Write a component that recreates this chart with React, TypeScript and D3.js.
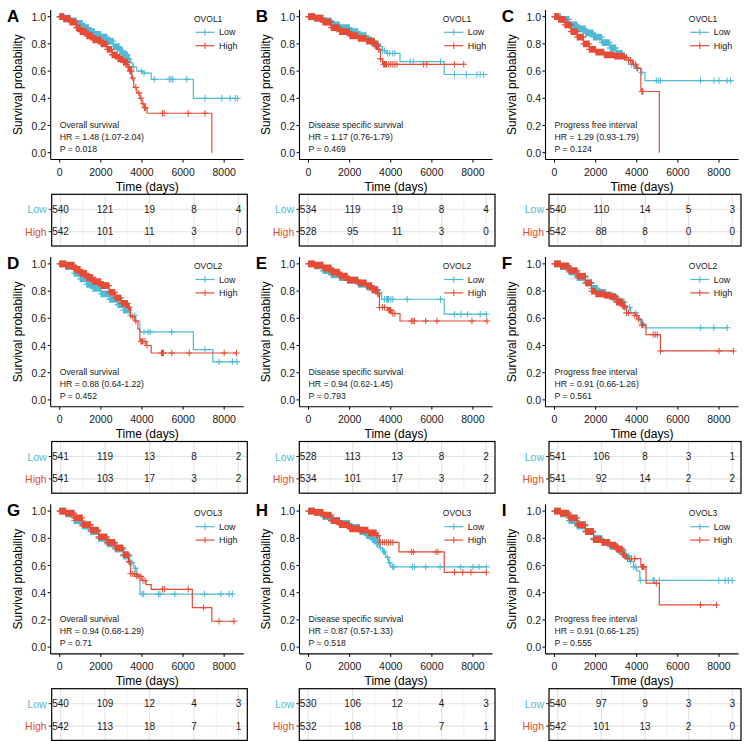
import React from "react";
import * as d3 from "d3";

const CYAN = "#4DBBD5";
const RED = "#E64B35";
const FONT = "'Liberation Sans', Arial, Helvetica, sans-serif";

const panelLetters = ["A", "B", "C", "D", "E", "F", "G", "H", "I"];
const geneNames = ["OVOL1", "OVOL1", "OVOL1", "OVOL2", "OVOL2", "OVOL2", "OVOL3", "OVOL3", "OVOL3"];
const endpointNames = [
  "Overall survival", "Disease specific survival", "Progress free interval",
  "Overall survival", "Disease specific survival", "Progress free interval",
  "Overall survival", "Disease specific survival", "Progress free interval",
];
const hrTexts = [
  "HR = 1.48 (1.07-2.04)", "HR = 1.17 (0.76-1.79)", "HR = 1.29 (0.93-1.79)",
  "HR = 0.88 (0.64-1.22)", "HR = 0.94 (0.62-1.45)", "HR = 0.91 (0.66-1.26)",
  "HR = 0.94 (0.68-1.29)", "HR = 0.87 (0.57-1.33)", "HR = 0.91 (0.66-1.25)",
];
const pTexts = ["P = 0.018", "P = 0.469", "P = 0.124", "P = 0.452", "P = 0.793", "P = 0.561", "P = 0.71", "P = 0.518", "P = 0.555"];
const groups = ["Low", "High"];
const xTicks = [0, 2000, 4000, 6000, 8000];
const xMinorTicks = [1000, 3000, 5000, 7000];
const yTicks = [0, 0.2, 0.4, 0.6, 0.8, 1.0];

const riskLow = [
  [540, 121, 19, 8, 4], [534, 119, 19, 8, 4], [540, 110, 14, 5, 3],
  [541, 119, 13, 8, 2], [528, 113, 13, 8, 2], [541, 106, 8, 3, 1],
  [540, 109, 12, 4, 3], [530, 106, 12, 4, 3], [540, 97, 9, 3, 3],
];
const riskHigh = [
  [542, 101, 11, 3, 0], [528, 95, 11, 3, 0], [542, 88, 8, 0, 0],
  [541, 103, 17, 3, 2], [534, 101, 17, 3, 2], [541, 92, 14, 2, 2],
  [542, 113, 18, 7, 1], [532, 108, 18, 7, 1], [542, 101, 13, 2, 0],
];

// early, dense censoring times (shared pattern)
const denseCensorTimes = [
  10, 30, 50, 70, 90, 105, 125, 150, 170, 185, 205, 225, 245, 260, 280, 300, 320, 340, 360, 380, 400,
  415, 435, 455, 475, 490, 510, 535, 555, 570, 590, 610, 630, 650, 670, 690, 710, 730, 750, 770, 790,
  810, 830, 855, 875, 895, 915, 940, 960, 980, 1000, 1025, 1045, 1065, 1090, 1110, 1130, 1155, 1175,
  1200, 1225, 1250, 1270, 1295, 1320, 1345, 1365, 1390, 1415, 1440, 1465, 1490, 1515, 1540, 1570,
  1595, 1620, 1645, 1675, 1700, 1730, 1755, 1785, 1810, 1840, 1870, 1900, 1925, 1955, 1985, 2015,
  2045, 2080, 2110, 2145, 2180, 2215, 2250, 2285, 2320, 2355, 2390, 2430, 2470, 2510, 2550, 2590,
  2630, 2670, 2710, 2750, 2790, 2835, 2880, 2925, 2970, 3015, 3060, 3105, 3150, 3195, 3240, 3285,
  3330, 3375, 3420, 3460, 3490,
];

// ---- Panel A (OVOL1, OS)
const stepsLowA = [[0, 1], [200, 0.99], [500, 0.97], [800, 0.95], [1100, 0.92], [1400, 0.89], [1700, 0.87], [2000, 0.85], [2300, 0.82], [2600, 0.78], [2900, 0.75], [3100, 0.72], [3300, 0.69], [3450, 0.66], [3550, 0.63], [3750, 0.6], [4100, 0.585], [4450, 0.54], [6500, 0.4]];
const censorLowA = [3580, 3980, 4100, 4590, 5330, 5410, 5500, 6180, 7070, 7890, 8290, 8540, 8650];
const stepsHighA = [[0, 1], [200, 0.985], [500, 0.96], [800, 0.92], [1000, 0.89], [1300, 0.86], [1600, 0.83], [2000, 0.8], [2300, 0.76], [2550, 0.72], [2800, 0.69], [3100, 0.665], [3300, 0.63], [3400, 0.6], [3500, 0.55], [3600, 0.48], [3750, 0.44], [3900, 0.4], [4000, 0.36], [4100, 0.33], [4250, 0.29], [7400, 0]];
const censorHighA = [3550, 3700, 3850, 3950, 4050, 4120, 4180, 5000, 5080, 6250, 7070];
// ---- Panel B (OVOL1, DSS)
const stepsLowB = [[0, 1], [300, 0.99], [700, 0.97], [1100, 0.94], [1500, 0.92], [2000, 0.89], [2400, 0.86], [2800, 0.83], [3100, 0.8], [3400, 0.78], [3600, 0.75], [3800, 0.73], [4450, 0.67], [6600, 0.575]];
const censorLowB = [3600, 3700, 3850, 3950, 4100, 4200, 4950, 5100, 6420, 7100, 7680, 8190, 8350, 8520];
const stepsHighB = [[0, 1], [300, 0.99], [700, 0.96], [1100, 0.92], [1500, 0.89], [2000, 0.86], [2400, 0.84], [2800, 0.82], [3200, 0.79], [3400, 0.76], [3500, 0.69], [3600, 0.65]];
const censorHighB = [3500, 3650, 3700, 3750, 3800, 3900, 4000, 4100, 4200, 4300, 5600, 5750, 7100, 7550];
// ---- Panel C (OVOL1, PFI)
const stepsLowC = [[0, 1], [300, 0.98], [700, 0.94], [1100, 0.91], [1500, 0.88], [1900, 0.85], [2300, 0.81], [2700, 0.77], [3000, 0.73], [3300, 0.69], [3600, 0.65], [3900, 0.62], [4200, 0.59], [4400, 0.53]];
const censorLowC = [3750, 4000, 4250, 4950, 5050, 5150, 7100, 7750, 8000, 8400, 8560];
const stepsHighC = [[0, 1], [200, 0.98], [500, 0.94], [800, 0.89], [1100, 0.85], [1400, 0.8], [1700, 0.76], [2000, 0.74], [2400, 0.72], [2900, 0.71], [3400, 0.7], [3600, 0.68], [3800, 0.65], [4000, 0.62], [4200, 0.45], [5100, 0]];
const censorHighC = [3500, 3600, 3700, 3850, 3950, 4050, 4250, 4300];
// ---- Panel D (OVOL2, OS)
const stepsLowD = [[0, 1], [300, 0.98], [700, 0.93], [1000, 0.89], [1300, 0.85], [1600, 0.82], [2000, 0.78], [2400, 0.74], [2800, 0.7], [3100, 0.66], [3400, 0.62], [3700, 0.58], [3900, 0.5], [6500, 0.37], [7450, 0.28]];
const censorLowD = [3450, 3650, 4100, 4300, 4400, 5450, 7070, 7750, 8400, 8620];
const stepsHighD = [[0, 1], [300, 0.99], [700, 0.96], [1000, 0.93], [1300, 0.9], [1600, 0.87], [2000, 0.84], [2400, 0.79], [2700, 0.75], [3000, 0.71], [3300, 0.68], [3450, 0.61], [3650, 0.58], [3800, 0.52], [3900, 0.43], [4200, 0.4], [4450, 0.345]];
const censorHighD = [3550, 3700, 3950, 4000, 4050, 4150, 4250, 4950, 5000, 5050, 5450, 6300, 8000, 8600];
// ---- Panel E (OVOL2, DSS)
const stepsLowE = [[0, 1], [300, 0.985], [700, 0.95], [1100, 0.92], [1500, 0.9], [1900, 0.88], [2400, 0.85], [2800, 0.83], [3100, 0.81], [3400, 0.79], [3550, 0.74], [6600, 0.63]];
const censorLowE = [3700, 3800, 3850, 3900, 4000, 4100, 4800, 6420, 7100, 7420, 7740, 8350, 8650];
const stepsHighE = [[0, 1], [300, 0.99], [700, 0.97], [1100, 0.94], [1500, 0.91], [1900, 0.88], [2400, 0.86], [2800, 0.84], [3100, 0.81], [3350, 0.78], [3450, 0.68], [3850, 0.66], [4050, 0.635], [4450, 0.58]];
const censorHighE = [3450, 3600, 3700, 3900, 3950, 4000, 4100, 4200, 5000, 5080, 5150, 5700, 6250, 7950, 8680];
// ---- Panel F (OVOL2, PFI)
const stepsLowF = [[0, 1], [300, 0.98], [700, 0.94], [1100, 0.9], [1500, 0.86], [1800, 0.82], [2100, 0.79], [2500, 0.77], [2800, 0.75], [3100, 0.72], [3400, 0.68], [3700, 0.64], [4000, 0.6], [4200, 0.56], [4400, 0.53]];
const censorLowF = [3650, 3950, 4300, 7110, 7750, 8400];
const stepsHighF = [[0, 1], [300, 0.985], [700, 0.95], [1100, 0.91], [1500, 0.86], [1800, 0.8], [2000, 0.78], [2400, 0.77], [2700, 0.76], [3000, 0.72], [3300, 0.69], [3500, 0.64], [3900, 0.62], [4100, 0.59], [4250, 0.55], [4450, 0.48], [5150, 0.36]];
const censorHighF = [3500, 3600, 3900, 4000, 4100, 4250, 4300, 4800, 4900, 5000, 5150, 8000, 8700];
// ---- Panel G (OVOL3, OS)
const stepsLowG = [[0, 1], [300, 0.98], [700, 0.93], [1100, 0.89], [1500, 0.85], [1900, 0.8], [2300, 0.76], [2700, 0.72], [3100, 0.67], [3400, 0.62], [3600, 0.58], [3750, 0.53], [3900, 0.39]];
const censorLowG = [3360, 3520, 3680, 3760, 4000, 4080, 4800, 4880, 5600, 7040, 7840, 8240, 8400];
const stepsHighG = [[0, 1], [300, 0.985], [700, 0.95], [1100, 0.9], [1500, 0.86], [1900, 0.81], [2300, 0.77], [2700, 0.73], [3100, 0.68], [3350, 0.63], [3450, 0.54], [3750, 0.52], [4000, 0.49], [4200, 0.46], [4450, 0.425], [6450, 0.29], [7400, 0.19]];
const censorHighG = [3450, 3550, 3650, 3750, 3850, 3950, 4050, 4150, 5000, 5100, 6250, 7000, 7750, 8480];
// ---- Panel H (OVOL3, DSS)
const stepsLowH = [[0, 1], [300, 0.99], [700, 0.96], [1100, 0.93], [1500, 0.91], [2000, 0.88], [2500, 0.85], [2800, 0.82], [3100, 0.79], [3300, 0.76], [3450, 0.73], [3600, 0.7], [3750, 0.66], [3900, 0.62], [4000, 0.59]];
const censorLowH = [3500, 3650, 3700, 3850, 3950, 4100, 4150, 5050, 5150, 5700, 6400, 7400, 8000, 8300, 8650];
const stepsHighH = [[0, 1], [300, 0.99], [700, 0.97], [1100, 0.93], [1500, 0.9], [2000, 0.87], [2500, 0.86], [2900, 0.84], [3300, 0.82], [3450, 0.77], [4400, 0.7], [6600, 0.55]];
const censorHighH = [3500, 3600, 3700, 3800, 3900, 4000, 4100, 5000, 5100, 6200, 6300, 7100, 7500, 7900, 8650];
// ---- Panel I (OVOL3, PFI)
const stepsLowI = [[0, 1], [300, 0.98], [700, 0.93], [1100, 0.89], [1500, 0.85], [1900, 0.8], [2300, 0.77], [2700, 0.74], [3100, 0.71], [3400, 0.67], [3650, 0.63], [3850, 0.59], [4000, 0.56], [4150, 0.49]];
const censorLowI = [3600, 3700, 3850, 3950, 4200, 4800, 4850, 5100, 7990, 8300, 8450, 8640];
const stepsHighI = [[0, 1], [300, 0.985], [700, 0.95], [1100, 0.9], [1500, 0.85], [1900, 0.79], [2300, 0.77], [2700, 0.75], [3000, 0.72], [3300, 0.68], [3500, 0.65], [4200, 0.59], [4450, 0.47], [5100, 0.31]];
const censorHighI = [3550, 3650, 3750, 3900, 4250, 4300, 4350, 4950, 7100, 7880];

const lowSteps = [stepsLowA, stepsLowB, stepsLowC, stepsLowD, stepsLowE, stepsLowF, stepsLowG, stepsLowH, stepsLowI];
const highSteps = [stepsHighA, stepsHighB, stepsHighC, stepsHighD, stepsHighE, stepsHighF, stepsHighG, stepsHighH, stepsHighI];
const lowCensor = [censorLowA, censorLowB, censorLowC, censorLowD, censorLowE, censorLowF, censorLowG, censorLowH, censorLowI];
const highCensor = [censorHighA, censorHighB, censorHighC, censorHighD, censorHighE, censorHighF, censorHighG, censorHighH, censorHighI];
const lowEnd = [8700, 8700, 8700, 8700, 8700, 8400, 8400, 8680, 8640];
const highEnd = [7400, 7550, 5100, 8620, 8680, 8700, 8480, 8650, 7880];
const lowDenseUntil = [3400, 3400, 3300, 3400, 3450, 3450, 3450, 3400, 3500];
const highDenseUntil = [3500, 3450, 3450, 3400, 3400, 3450, 3400, 3400, 3450];

// layout
const colX = [0, 248.8, 494.8];
const tableLeft = [51.7, 299.3, 549];
const tableRight = [247.3, 495, 741];
const rowH = 247.2;

function survAt(steps: number[][], t: number) {
  let s = steps[0][1];
  for (const p of steps) if (p[0] <= t) s = p[1];
  return s;
}

function Curve({ steps, end, censor, denseUntil, color, x, y }: any) {
  const pts = [...steps, [end, steps[steps.length - 1][1]]];
  const line = d3.line<number[]>().x((d) => x(d[0])).y((d) => y(d[1])).curve(d3.curveStepAfter);
  const dense = denseCensorTimes.filter((t) => t < denseUntil);
  const mk = (t: number, h: number) => {
    const cx = x(t);
    const cy = y(survAt(steps, t));
    return `M${cx - 3.2},${cy}h6.4M${cx},${cy - h}v${2 * h}`;
  };
  const denseMarks = dense.map((t) => mk(t, 3.4)).join("");
  const lateMarks = censor.map((t: number) => mk(t, 3.2)).join("");
  return (
    <g>
      <path d={line(pts as any) || ""} fill="none" stroke={color} strokeWidth={1.2} />
      <path d={denseMarks} fill="none" stroke={color} strokeWidth={1.35} />
      <path d={lateMarks} fill="none" stroke={color} strokeWidth={1.05} />
    </g>
  );
}

function Panel({ idx }: { idx: number }) {
  const col = idx % 3;
  const row = Math.floor(idx / 3);
  const ox = colX[col];
  const oy = row * rowH;
  const axisX = ox + 50.7;
  const x = d3.scaleLinear().domain([-440, 8950]).range([axisX, axisX + 193]);
  const y = d3.scaleLinear().domain([-0.05, 1.05]).range([oy + 159.5, oy + 9.9]);
  const tL = tableLeft[col];
  const tR = tableRight[col];
  const tx = d3.scaleLinear().domain([-400, 8400]).range([tL, tR]);
  const ty = d3.scalePoint<string>().domain(groups).range([oy + 209.3, oy + 231.7]);
  const tTop = oy + 194.3;
  const tBot = oy + 246;
  const axisY = y(-0.05);
  const xRight = x(8950);
  const legX = ox + 194;
  const colors = [CYAN, RED];

  return (
    <g fontFamily={FONT}>
      <text x={ox + 7} y={oy + 21.8} fontSize={17} fontWeight="bold" fill="#000">{panelLetters[idx]}</text>
      <text transform={`translate(${ox + 17.5},${(y(1) + y(0)) / 2}) rotate(-90)`} textAnchor="middle" dominantBaseline="central" fontSize={12} fill="#000">Survival probability</text>
      {/* y axis */}
      <line x1={axisX} x2={axisX} y1={y(1.05)} y2={axisY} stroke="#000" strokeWidth={1.1} />
      {yTicks.map((t) => (
        <g key={t}>
          <line x1={axisX - 3} x2={axisX} y1={y(t)} y2={y(t)} stroke="#000" strokeWidth={1} />
          <text x={axisX - 4.5} y={y(t)} textAnchor="end" dominantBaseline="central" fontSize={10.5} fill="#1a1a1a">{t.toFixed(1)}</text>
        </g>
      ))}
      {/* x axis */}
      <line x1={axisX} x2={xRight} y1={axisY} y2={axisY} stroke="#000" strokeWidth={1.1} />
      {xTicks.map((t) => (
        <g key={t}>
          <line x1={x(t)} x2={x(t)} y1={axisY} y2={axisY + 3} stroke="#000" strokeWidth={1} />
          <text x={x(t)} y={axisY + 12.5} textAnchor="middle" dominantBaseline="central" fontSize={10.5} fill="#1a1a1a">{t}</text>
        </g>
      ))}
      <text x={(axisX + xRight) / 2} y={oy + 187} textAnchor="middle" dominantBaseline="central" fontSize={12} fill="#000">Time (days)</text>

      {/* curves */}
      <Curve steps={lowSteps[idx]} end={lowEnd[idx]} censor={lowCensor[idx]} denseUntil={lowDenseUntil[idx]} color={CYAN} x={x} y={y} />
      <Curve steps={highSteps[idx]} end={highEnd[idx]} censor={highCensor[idx]} denseUntil={highDenseUntil[idx]} color={RED} x={x} y={y} />

      {/* annotation */}
      <text x={x(0)} y={oy + 125} dominantBaseline="central" fontSize={8.7} fill="#1a1a1a">{endpointNames[idx]}</text>
      <text x={x(0)} y={oy + 137} dominantBaseline="central" fontSize={8.7} fill="#1a1a1a">{hrTexts[idx]}</text>
      <text x={x(0)} y={oy + 149} dominantBaseline="central" fontSize={8.7} fill="#1a1a1a">{pTexts[idx]}</text>

      {/* legend */}
      <text x={legX} y={oy + 18.5} dominantBaseline="central" fontSize={8.5} fill="#1a1a1a">{geneNames[idx]}</text>
      {groups.map((g, i) => {
        const ly = oy + 32.3 + i * 13.4;
        return (
          <g key={g}>
            <line x1={legX + 1.5} x2={legX + 20.5} y1={ly} y2={ly} stroke={colors[i]} strokeWidth={1.2} />
            <line x1={legX + 11} x2={legX + 11} y1={ly - 3.2} y2={ly + 3.2} stroke={colors[i]} strokeWidth={1.1} />
            <text x={legX + 25} y={ly} dominantBaseline="central" fontSize={9} fill="#1a1a1a">{g}</text>
          </g>
        );
      })}

      {/* risk table */}
      <g>
        {xMinorTicks.map((t) => (
          <line key={"m" + t} x1={tx(t)} x2={tx(t)} y1={tTop} y2={tBot} stroke="#EBEBEB" strokeWidth={0.6} />
        ))}
        {xTicks.map((t) => (
          <line key={"M" + t} x1={tx(t)} x2={tx(t)} y1={tTop} y2={tBot} stroke="#E3E3E3" strokeWidth={1.1} />
        ))}
        {groups.map((g) => (
          <line key={"h" + g} x1={tL} x2={tR} y1={ty(g)!} y2={ty(g)!} stroke="#E3E3E3" strokeWidth={1.1} />
        ))}
        {groups.map((g, i) => (
          <g key={"r" + g}>
            <line x1={tL - 3} x2={tL} y1={ty(g)!} y2={ty(g)!} stroke="#333" strokeWidth={1} />
            <text x={tL - 5} y={ty(g)!} textAnchor="end" dominantBaseline="central" fontSize={10.5} fill={colors[i]}>{g}</text>
            {(i === 0 ? riskLow[idx] : riskHigh[idx]).map((v, j) => (
              <text key={j} x={tx(xTicks[j])} y={ty(g)!} textAnchor="middle" dominantBaseline="central" fontSize={10} fill="#1a1a1a">{v}</text>
            ))}
          </g>
        ))}
        <rect x={tL} y={tTop} width={tR - tL} height={tBot - tTop} fill="none" stroke="#000" strokeWidth={1.2} />
      </g>
    </g>
  );
}

export default function App() {
  return (
    <svg width={753} height={741} viewBox="0 0 753 741" style={{ position: "absolute", left: 0, top: 0, background: "#fff" }}>
      <rect x={0} y={0} width={753} height={741} fill="#fff" />
      {panelLetters.map((_, i) => (
        <Panel key={i} idx={i} />
      ))}
    </svg>
  );
}
